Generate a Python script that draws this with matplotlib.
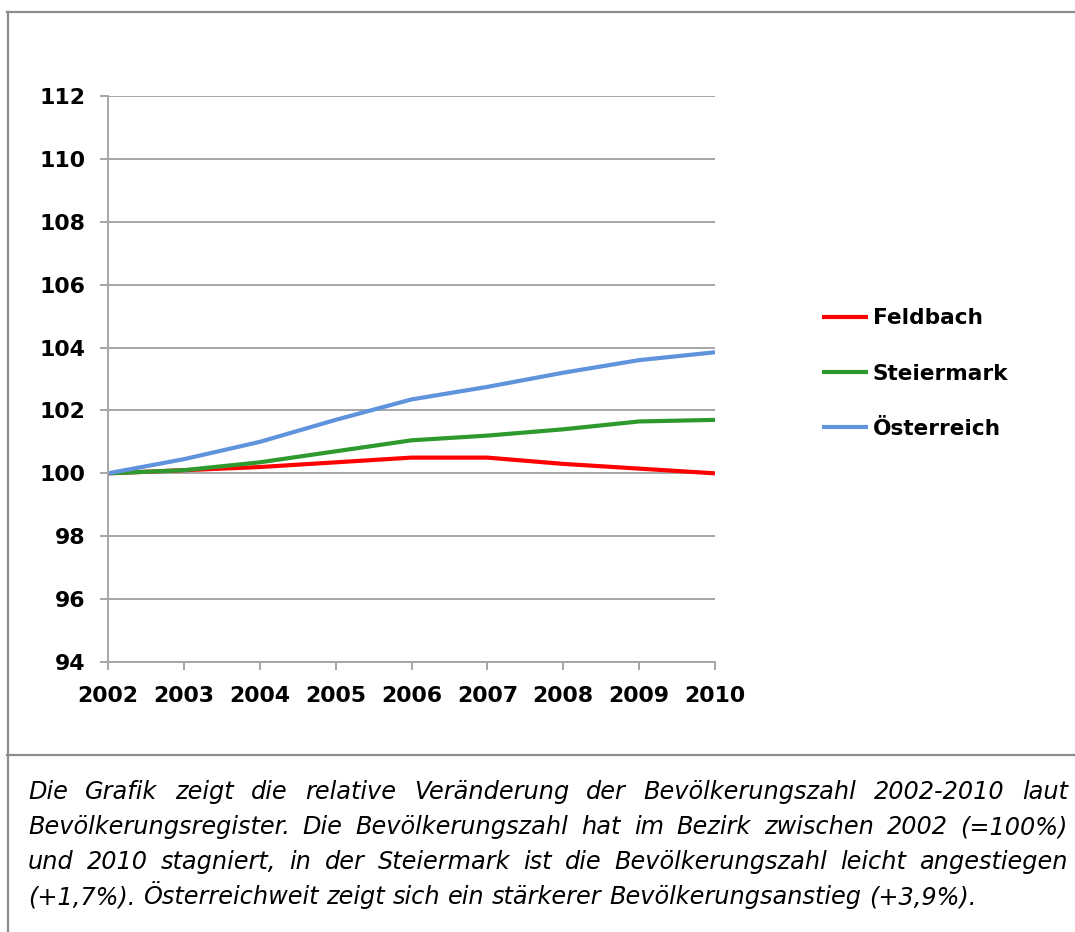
import matplotlib
matplotlib.use("Agg")
import matplotlib.pyplot as plt
from matplotlib.lines import Line2D

years = [2002, 2003, 2004, 2005, 2006, 2007, 2008, 2009, 2010]
feldbach = [100.0, 100.1, 100.2, 100.35, 100.5, 100.5, 100.3, 100.15, 100.0]
steiermark = [100.0, 100.1, 100.35, 100.7, 101.05, 101.2, 101.4, 101.65, 101.7]
oesterreich = [100.0, 100.45, 101.0, 101.7, 102.35, 102.75, 103.2, 103.6, 103.85]
series_names = ["Feldbach", "Steiermark", "Österreich"]
y_ticks = [94, 96, 98, 100, 102, 104, 106, 108, 110, 112]

caption_lines = [
    "Die Grafik zeigt die relative Veränderung der Bevölkerungszahl 2002-2010 laut",
    "Bevölkerungsregister. Die Bevölkerungszahl hat im Bezirk zwischen 2002 (=100%)",
    "und 2010 stagniert, in der Steiermark ist die Bevölkerungszahl leicht angestiegen",
    "(+1,7%). Österreichweit zeigt sich ein stärkerer Bevölkerungsanstieg (+3,9%).",
]

W, H = 1075, 932
fig = plt.figure(figsize=(W / 100, H / 100), dpi=100)
fig.patch.set_facecolor("white")

ax = fig.add_axes([108 / W, 1 - 662 / H, (715 - 108) / W, (662 - 96) / H])
colors = ["#ff0000", "#2e9a2e", "#5f93dc"]
for vals, name, c in zip([feldbach, steiermark, oesterreich], series_names, colors):
    ax.plot(years, vals, color=c, lw=3.0, label=name, solid_joinstyle="round",
            solid_capstyle="butt")

grid_c = "#a6a6a6"
ax.set_xlim(2002, 2010)
ax.set_ylim(94, 112)
ax.set_yticks(y_ticks)
ax.set_xticks(years)
ax.set_xticklabels([str(y) for y in years])
ax.yaxis.grid(True, color=grid_c, lw=1.4)
ax.set_axisbelow(True)
for s in ["top", "right"]:
    ax.spines[s].set_visible(False)
for s in ["left", "bottom"]:
    ax.spines[s].set_color(grid_c)
    ax.spines[s].set_linewidth(1.4)
ax.tick_params(axis="both", direction="out", length=6, width=1.4, color=grid_c,
               labelsize=15.8, labelcolor="black")
ax.tick_params(axis="y", pad=10)
ax.tick_params(axis="x", pad=11)
for lab in ax.get_xticklabels() + ax.get_yticklabels():
    lab.set_fontweight("bold")

leg = ax.legend(loc="center left", bbox_to_anchor=(822 / W, 1 - 373.5 / H),
                bbox_transform=fig.transFigure, frameon=False, borderpad=0,
                borderaxespad=0, handlelength=2.1, handletextpad=0.25,
                labelspacing=1.62, prop={"weight": "bold", "size": 15.6})

# borders
bc = "#8c8c8c"
fig.add_artist(Line2D([7.5 / W, 7.5 / W], [0, 1 - 12 / H], transform=fig.transFigure,
                      color=bc, lw=1.6))
fig.add_artist(Line2D([7 / W, 1], [1 - 12 / H, 1 - 12 / H], transform=fig.transFigure,
                      color=bc, lw=1.6))
fig.add_artist(Line2D([7 / W, 1], [1 - 755 / H, 1 - 755 / H], transform=fig.transFigure,
                      color=bc, lw=1.6))

# justified caption
fig.canvas.draw()
renderer = fig.canvas.get_renderer()
left_px, right_px = 28, 1068
baselines = [799, 834, 869, 904]
fs = 17.3
probe = fig.text(0, 0, "a b", fontsize=fs, style="italic")
w_ab = probe.get_window_extent(renderer).width
probe.set_text("ab")
w_ab2 = probe.get_window_extent(renderer).width
space_w = w_ab - w_ab2
probe.remove()

for i, (line, bl) in enumerate(zip(caption_lines, baselines)):
    words = line.split(" ")
    widths = []
    for wd in words:
        t = fig.text(0, 0, wd, fontsize=fs, style="italic")
        widths.append(t.get_window_extent(renderer).width)
        t.remove()
    if i < len(caption_lines) - 1:
        gap = (right_px - left_px - sum(widths)) / (len(words) - 1)
    else:
        gap = space_w
    x = left_px
    for wd, w in zip(words, widths):
        fig.text(x / W, 1 - bl / H, wd, fontsize=fs, style="italic",
                 va="baseline", ha="left", color="black")
        x += w + gap

fig.savefig("out.png", dpi=100, facecolor="white")
